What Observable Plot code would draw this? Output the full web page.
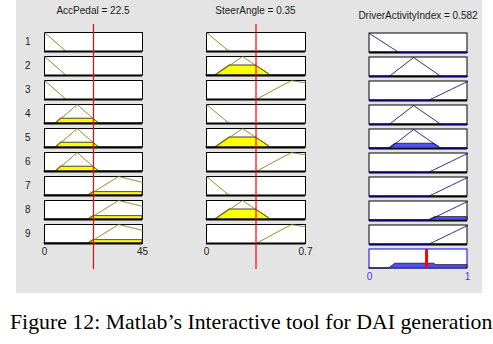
<!DOCTYPE html>
<html><head><meta charset="utf-8">
<script src="https://cdn.jsdelivr.net/npm/d3@7"></script>
<script src="https://cdn.jsdelivr.net/npm/@observablehq/plot@0.6"></script>
<style>
body{margin:0;background:#fff;}
#root{position:relative;width:493px;height:344px;overflow:hidden;background:#fff;font-family:"Liberation Sans",Arial,sans-serif;}
#panel{position:absolute;left:16px;top:0;width:466px;height:293px;background:#e4e4e4;}
.plot{position:absolute;top:0;}
.plot svg{display:block;}
.title{position:absolute;font-size:10px;line-height:12px;color:#1a1a1a;white-space:nowrap;transform:translateX(-50%);}
#caption{position:absolute;left:10px;top:312px;font-family:"Liberation Serif","Times New Roman",serif;font-size:21.8px;line-height:21.8px;white-space:nowrap;color:#000;}
</style></head><body><div id="root"><div id="panel"></div></div>
<script>
// ---- data ----
const ruleIds = ["1","2","3","4","5","6","7","8","9"];
const inputNames = ["AccPedal","SteerAngle"];
const inputValues = [22.5, 0.35];
const outputName = "DriverActivityIndex";
const outputValue = 0.582;
const accDomain = [0, 45];
const steerDomain = [0, 0.7];
const outDomain = [0, 1];
const accTicks = [0, 45];
const steerTicks = [0, 0.7];
const outTicks = [0, 1];
const accMF = {low: [-10, 0, 10], medium: [5, 15, 25], high: [20, 34, 70]};
const steerMF = {low: [-0.16, 0, 0.16], medium: [0.06, 0.255, 0.455], high: [0.35, 0.6, 1.4]};
const outMF = {low: [-0.3, 0, 0.3], medium: [0.2, 0.45, 0.73], high: [0.6, 1, 1.4]};
const ruleAcc = ["low","low","low","medium","medium","medium","high","high","high"];
const ruleSteer = ["low","medium","high","low","medium","high","low","medium","high"];
const ruleOut = ["low","medium","high","medium","medium","high","high","high","high"];
const captionText = "Figure 12: Matlab\u2019s Interactive tool for DAI generation";

// ---- helpers ----
function trimf(x, p) {
  const [a, b, c] = p;
  return Math.max(0, Math.min((x - a) / (b - a), (c - x) / (c - b)));
}
function grid(domain) {
  return d3.range(181).map(i => domain[0] + (domain[1] - domain[0]) * i / 180);
}
const fmt = d => `${d}`;
const root = document.getElementById("root");
function place(node, left) {
  const d = document.createElement("div");
  d.className = "plot";
  d.style.left = left + "px";
  d.appendChild(node);
  root.appendChild(d);
}
function addTitle(text, cx, top) {
  const t = document.createElement("div");
  t.className = "title";
  t.textContent = text;
  t.style.left = cx + "px";
  t.style.top = top + "px";
  root.appendChild(t);
}

const H = 293;
const inputCols = [
  {domain: accDomain, ticks: accTicks, mf: accMF, ruleMF: ruleAcc, left: 0, mL: 44, mR: 18, showRows: true},
  {domain: steerDomain, ticks: steerTicks, mf: steerMF, ruleMF: ruleSteer, left: 165, mL: 41, mR: 20, showRows: false}
];

const firings = ruleIds.map((r, i) => Math.min(
  trimf(inputValues[0], accMF[ruleAcc[i]]),
  trimf(inputValues[1], steerMF[ruleSteer[i]])
));

inputCols.forEach((col, k) => {
  const xs = grid(col.domain);
  const v = inputValues[k];
  const levels = col.ruleMF.map(n => trimf(v, col.mf[n]));
  const lines = ruleIds.flatMap((r, i) => xs.map(x => ({rule: r, x, mu: trimf(x, col.mf[col.ruleMF[i]])})));
  const fills = ruleIds.flatMap((r, i) => levels[i] > 0
    ? xs.map(x => ({rule: r, x, mu: Math.min(trimf(x, col.mf[col.ruleMF[i]]), levels[i])})) : []);
  const chart = Plot.plot({
    width: 160, height: H,
    marginLeft: col.mL, marginRight: col.mR, marginTop: 28, marginBottom: H - 248,
    style: {fontFamily: "Liberation Sans, Arial, sans-serif", fontSize: "10px", color: "#1a1a1a", background: "transparent", overflow: "visible"},
    x: {domain: col.domain, ticks: col.ticks, tickFormat: fmt, tickSize: 0, tickPadding: 4, label: null},
    y: {domain: [0, 1], axis: null},
    fy: {domain: ruleIds, paddingInner: 0.2, paddingOuter: 0, axis: col.showRows ? "left" : null, tickSize: 0, tickPadding: 14, label: null},
    marks: [
      Plot.frame({fill: "white", stroke: "black"}),
      Plot.areaY(fills, {x: "x", y: "mu", fy: "rule", z: "rule", fill: "#ffff00", stroke: "#222", strokeWidth: 1}),
      Plot.line(lines, {x: "x", y: "mu", fy: "rule", z: "rule", stroke: "#7a7a00", strokeWidth: 1}),
      Plot.ruleY([0], {stroke: "black", strokeWidth: 2})
    ]
  });
  place(chart, col.left);
  const overlay = Plot.plot({
    width: 160, height: H,
    marginLeft: col.mL, marginRight: col.mR, marginTop: 24, marginBottom: H - 269,
    style: {background: "transparent", overflow: "visible"},
    x: {domain: col.domain, axis: null},
    y: {axis: null},
    marks: [Plot.ruleX([v], {stroke: "#ff0000", strokeWidth: 1.2})]
  });
  place(overlay, col.left);
  addTitle(`${inputNames[k]} = ${v}`, col.left + col.mL + (160 - col.mL - col.mR) / 2, 5);
});

// ---- output column ----
{
  const xs = grid(outDomain);
  const rowsOut = [...ruleIds, "agg"];
  const lines = ruleIds.flatMap((r, i) => xs.map(x => ({rule: r, x, mu: trimf(x, outMF[ruleOut[i]])})));
  const fills = ruleIds.flatMap((r, i) => firings[i] > 0
    ? xs.map(x => ({rule: r, x, mu: Math.min(trimf(x, outMF[ruleOut[i]]), firings[i])})) : []);
  const agg = xs.map(x => ({rule: "agg", x, mu: d3.max(ruleIds, (r, i) => Math.min(trimf(x, outMF[ruleOut[i]]), firings[i]))}));
  const boxes = rowsOut.map(r => ({rule: r}));
  const chart = Plot.plot({
    width: 160, height: H,
    marginLeft: 39, marginRight: 23, marginTop: 28, marginBottom: H - 273,
    style: {fontFamily: "Liberation Sans, Arial, sans-serif", fontSize: "10px", color: "#3a3aff", background: "transparent", overflow: "visible"},
    x: {domain: outDomain, ticks: outTicks, tickFormat: fmt, tickSize: 0, tickPadding: 4, label: null},
    y: {domain: [0, 1], axis: null},
    fy: {domain: rowsOut, paddingInner: 0.2, paddingOuter: 0, axis: null, label: null},
    marks: [
      Plot.rect(boxes, {x1: outDomain[0], x2: outDomain[1], y1: 0, y2: 1, fy: "rule", fill: "white",
        stroke: d => d.rule === "agg" ? "#0000ff" : "#000000"}),
      Plot.ruleY(ruleIds.map(r => ({rule: r})), {y: 0, fy: "rule", stroke: "black", strokeWidth: 2}),
      Plot.areaY(fills, {x: "x", y: "mu", fy: "rule", z: "rule", fill: "#5050f0", stroke: "#222", strokeWidth: 1}),
      Plot.line(lines, {x: "x", y: "mu", fy: "rule", z: "rule", stroke: "#000080", strokeWidth: 1}),
      Plot.areaY(agg, {x: "x", y: "mu", fy: "rule", fill: "#5050f0", stroke: "#222", strokeWidth: 1}),
      Plot.ruleX([{rule: "agg", x: outputValue}], {x: "x", fy: "rule", stroke: "#ff0000", strokeWidth: 3})
    ]
  });
  place(chart, 330);
  addTitle(`${outputName} = ${outputValue}`, 330 + 39 + (160 - 39 - 23) / 2, 10);
}

const cap = document.createElement("div");
cap.id = "caption";
cap.textContent = captionText;
root.appendChild(cap);
</script>
</body></html>
